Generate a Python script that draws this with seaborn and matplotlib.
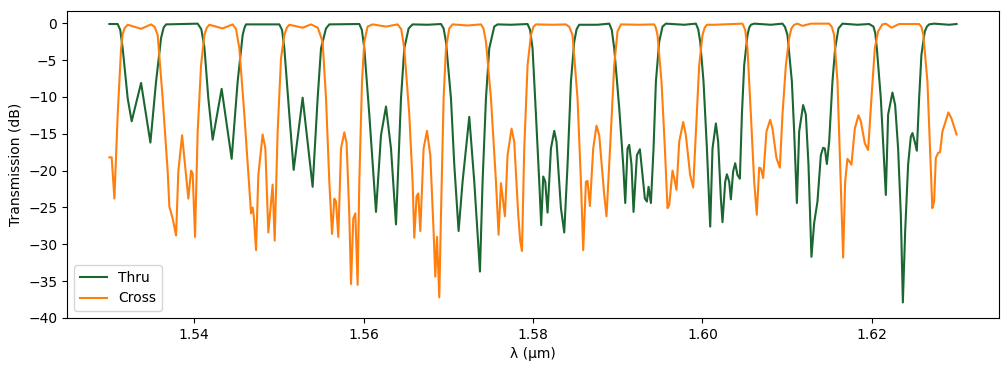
import numpy as np
import pandas as pd
import matplotlib
matplotlib.use("Agg")
import matplotlib.pyplot as plt
import seaborn as sns

# wavelength offsets from 1530 nm
thru_nm = [0.00, 0.98, 1.57, 2.16, 2.63, 3.74, 4.84, 5.51, 6.10, 6.69, 10.42, 11.21, 11.68,
           12.19, 13.25, 14.43, 15.14, 15.73, 16.13, 20.06, 20.65, 21.24, 21.75, 22.81, 23.99,
           24.58, 24.98, 25.57, 25.96, 29.50, 30.09, 30.68, 31.47, 32.06, 32.65, 33.24, 33.83,
           34.42, 34.81, 35.32, 35.79, 37.56, 39.14, 39.73, 40.32, 40.71, 41.22, 41.69, 42.48,
           43.07, 43.74, 44.05, 44.45, 44.84, 45.43, 45.82, 47.40, 49.36, 49.95, 50.35, 50.74,
           50.97, 51.21, 51.45, 51.72, 52.12, 52.51, 52.78, 53.30, 53.69, 54.08, 54.48, 54.87,
           55.46, 57.62, 59.00, 59.59, 60.18, 60.65, 60.89, 61.16, 61.36, 61.63, 61.87, 62.27,
           62.62, 62.93, 63.21, 63.45, 63.64, 63.92, 64.23, 64.51, 64.90, 65.29, 65.69, 67.85,
           69.23, 69.74, 70.13, 70.53, 70.92, 71.19, 71.59, 71.86, 72.18, 72.37, 72.69, 72.89,
           73.16, 73.36, 73.63, 73.87, 74.14, 74.42, 74.66, 74.93, 75.32, 75.72, 76.11, 78.08,
           79.45, 80.04, 80.56, 80.83, 81.15, 81.42, 81.89, 82.21, 82.52, 82.87, 83.19, 83.58,
           83.98, 84.25, 84.45, 84.69, 84.96, 85.35, 85.67, 86.06, 86.53, 88.30, 89.68, 90.19,
           90.59, 91.06, 91.37, 91.65, 91.92, 92.43, 92.75, 93.10, 93.42, 93.66, 93.93, 94.28,
           94.60, 94.79, 95.07, 95.31, 95.58, 95.85, 96.25, 96.76, 97.35, 99.12, 100.00]
thru_db = [-0.1, -0.1, -3.4, -10.2, -13.3, -8.1, -16.2, -7.9, -2.0, -0.15, -0.05, -3.2, -10.2,
           -15.8, -8.9, -18.4, -7.9, -1.6, -0.15, -0.15, -3.4, -12.4, -19.9, -10.1, -22.2,
           -10.2, -3.4, -0.7, -0.15, -0.1, -3.4, -12.4, -25.6, -15.2, -11.3, -17.0, -27.3,
           -10.2, -3.4, -0.7, -0.15, -0.2, -0.1, -2.5, -10.2, -19.2, -28.2, -21.5, -12.7,
           -21.5, -33.7, -21.5, -10.2, -3.4, -0.45, -0.15, -0.2, -0.1, -3.4, -12.4, -21.5,
           -27.4, -20.8, -21.5, -25.7, -17.0, -14.6, -16.1, -25.1, -28.4, -19.2, -7.9, -2.5,
           -0.2, -0.2, -0.05, -3.4, -11.5, -19.2, -24.4, -17.0, -16.5, -19.2, -25.6, -17.9,
           -17.1, -20.6, -23.8, -24.2, -22.2, -24.4, -17.0, -7.9, -2.5, -0.45, -0.05, -0.2,
           -0.05, -2.5, -7.9, -17.0, -27.6, -17.0, -13.6, -16.1, -23.8, -27.0, -21.5, -20.5,
           -21.5, -23.9, -20.1, -19.0, -20.6, -21.1, -12.4, -5.7, -1.6, -0.2, -0.05, -0.2,
           -0.05, -1.6, -7.9, -14.7, -24.4, -14.7, -11.1, -12.4, -19.2, -31.7, -27.1, -24.2,
           -17.9, -16.9, -17.0, -19.1, -16.1, -7.9, -3.4, -0.7, -0.05, -0.2, -0.1, -0.45,
           -3.4, -10.2, -17.0, -23.3, -12.4, -9.4, -11.1, -17.0, -26.0, -37.9, -28.3, -19.2,
           -15.4, -14.9, -16.1, -17.3, -10.2, -4.3, -1.1, -0.15, -0.05, -0.2, -0.1]
# rounded shoulders where the thru port leaves / rejoins the passband
thru_edge_nm = [1.28, 6.40, 10.85, 15.95, 20.38, 29.80, 39.45, 49.66, 55.15, 59.30, 69.50,
                75.52, 79.75, 90.40, 96.50]
thru_edge_db = [-0.9, -0.6, -0.8, -0.6, -0.9, -0.9, -0.7, -0.9, -0.8, -0.9, -0.8,
                -0.6, -0.5, -1.3, -0.45]

cross_nm = [0.00, 0.27, 0.59, 0.98, 1.38, 1.77, 2.16, 3.74, 4.92, 5.70, 6.29, 6.88, 7.08, 7.47,
            7.87, 8.14, 8.58, 9.05, 9.32, 9.64, 9.83, 10.11, 10.42, 10.82, 11.21, 11.80, 13.37,
            14.55, 15.34, 15.93, 16.52, 16.72, 16.91, 17.03, 17.31, 17.58, 18.09, 18.41, 18.76,
            19.27, 19.51, 19.86, 20.26, 20.65, 21.24, 22.81, 23.80, 25.17, 25.57, 25.96, 26.28,
            26.55, 26.75, 27.02, 27.34, 27.73, 28.00, 28.32, 28.52, 28.79, 29.03, 29.30, 29.50,
            29.82, 30.09, 30.48, 31.07, 32.65, 34.02, 34.81, 35.40, 35.79, 35.99, 36.26, 36.46,
            36.70, 37.09, 37.49, 37.88, 38.27, 38.47, 38.67, 38.94, 39.14, 39.45, 39.73, 40.12,
            40.51, 42.28, 43.86, 44.45, 45.04, 45.63, 45.94, 46.22, 46.69, 47.00, 47.47, 47.79,
            48.26, 48.50, 48.70, 48.97, 49.36, 49.76, 50.35, 52.31, 53.89, 54.67, 55.26, 55.66,
            55.93, 56.25, 56.44, 56.72, 57.11, 57.50, 57.82, 58.41, 58.68, 59.20, 59.59, 59.98,
            60.38, 62.54, 64.31, 64.70, 65.17, 65.57, 65.88, 66.08, 66.47, 66.67, 66.94, 67.26,
            67.73, 68.05, 68.55, 68.91, 69.23, 69.62, 70.01, 70.53, 71.39, 73.75, 74.73, 75.32,
            75.72, 76.11, 76.42, 76.70, 76.90, 77.17, 77.56, 78.00, 78.27, 78.74, 79.14, 79.45,
            79.85, 80.24, 80.83, 81.22, 81.81, 82.80, 84.96, 85.55, 85.94, 86.26, 86.61, 86.85,
            87.12, 87.32, 87.59, 87.99, 88.42, 88.70, 89.17, 89.56, 89.95, 90.35, 90.74, 91.24,
            91.65, 92.31, 93.22, 95.58, 96.08, 96.56, 96.87, 97.14, 97.35, 97.55, 97.82, 98.05,
            98.33, 99.03, 99.39, 100.00]
cross_db = [-18.2, -18.2, -23.8, -12.4, -3.4, -0.7, -0.2, -0.75, -0.15, -1.6, -10.2, -20.1,
            -24.9, -26.5, -28.8, -20.1, -15.2, -20.6, -23.8, -20.0, -20.4, -29.0, -14.7, -5.7,
            -1.6, -0.2, -0.7, -0.15, -3.4, -12.4, -22.4, -25.8, -25.0, -26.0, -30.8, -20.6,
            -15.1, -17.0, -28.4, -21.9, -29.5, -14.7, -4.75, -1.6, -0.2, -0.6, -0.15, -2.5,
            -10.2, -21.5, -28.6, -23.8, -24.2, -29.0, -17.0, -14.8, -16.3, -26.0, -35.4, -26.5,
            -25.8, -35.5, -21.5, -7.9, -2.5, -0.45, -0.15, -0.45, -0.15, -3.4, -12.4, -21.5,
            -29.1, -23.5, -23.1, -28.2, -17.0, -14.6, -17.9, -28.3, -34.4, -29.0, -37.2, -26.0,
            -10.2, -3.4, -0.7, -0.15, -0.3, -0.15, -2.5, -10.2, -21.5, -28.7, -21.7, -26.2,
            -17.9, -14.3, -16.1, -26.0, -29.6, -30.9, -17.0, -5.7, -1.6, -0.15, -0.2, -0.15,
            -1.6, -10.2, -21.5, -30.8, -21.5, -21.4, -24.8, -17.0, -13.9, -15.2, -23.3, -26.2,
            -14.7, -5.7, -1.1, -0.15, -0.2, -0.15, -1.6, -7.9, -17.0, -25.1, -24.7, -20.0,
            -21.0, -22.6, -16.1, -13.4, -15.2, -20.6, -22.3, -14.7, -5.7, -1.6, -0.2, -0.2,
            -0.1, -0.05, -3.4, -12.4, -21.5, -26.0, -19.6, -19.7, -21.0, -14.7, -13.1, -14.3,
            -18.3, -19.6, -12.4, -5.7, -2.0, -0.2, -0.05, -0.35, -0.05, -0.05, -1.6, -7.9,
            -19.2, -31.8, -21.5, -18.4, -18.7, -19.2, -14.3, -12.5, -13.3, -16.3, -17.2, -10.2,
            -3.4, -1.1, -0.15, -0.05, -0.6, -0.1, -0.1, -1.6, -7.9, -17.0, -25.1, -24.2, -18.3,
            -17.6, -17.5, -14.7, -12.1, -12.9, -15.1]
# rounded shoulders where the cross port leaves / rejoins the passband
cross_edge_nm = [1.57, 5.35, 11.50, 14.95, 20.95, 24.60, 34.45, 44.15, 50.05, 54.30, 64.50,
                 70.27, 75.05, 80.50, 85.28, 95.85]
cross_edge_db = [-1.5, -0.5, -0.6, -0.8, -0.6, -0.6, -0.8, -0.7, -0.5, -0.5, -0.6,
                 -0.6, -0.9, -0.7, -0.5, -0.5]

thru = pd.DataFrame({"nm": thru_nm + thru_edge_nm, "T": thru_db + thru_edge_db, "port": "Thru"})
cross = pd.DataFrame({"nm": cross_nm + cross_edge_nm, "T": cross_db + cross_edge_db, "port": "Cross"})
df = pd.concat([thru, cross], ignore_index=True)
df["wl"] = 1.53 + df["nm"] / 1000

fig, ax = plt.subplots(figsize=(10.08, 3.71), dpi=100)
sns.lineplot(data=df, x="wl", y="T", hue="port", palette={"Thru": "#1b6631", "Cross": "#ff7f0e"},
             estimator=None, sort=True, linewidth=1.5, ax=ax)
ax.set_ylim(-40, 1.7)
ax.set_xlabel("λ (µm)")
ax.set_ylabel("Transmission (dB)")
ax.legend(loc="lower left")
fig.subplots_adjust(left=0.0665, right=0.991, top=0.971, bottom=0.143)
fig.savefig("out.png", dpi=100)
